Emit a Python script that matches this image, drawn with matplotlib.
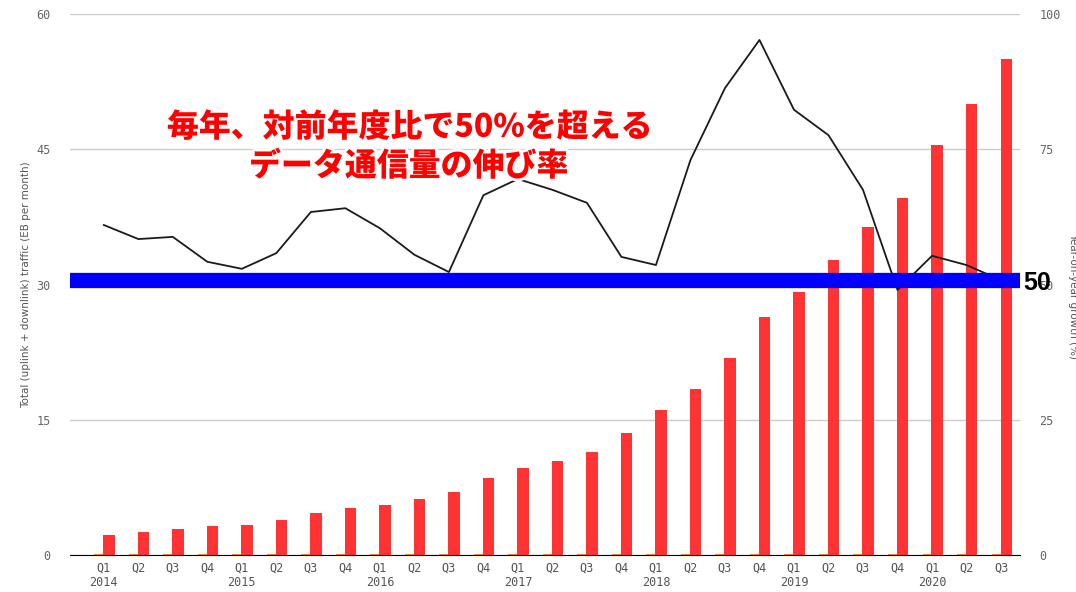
import matplotlib
matplotlib.use('Agg')
import matplotlib.pyplot as plt
import matplotlib.patheffects as pe
import numpy as np

# quarters Q1 2014 .. Q3 2020
quarters = ['Q1', 'Q2', 'Q3', 'Q4'] * 6 + ['Q1', 'Q2', 'Q3']
years = ['2014', '2015', '2016', '2017', '2018', '2019', '2020']

# total mobile data traffic (EB per month)
traffic = [2.2, 2.55, 2.9, 3.2, 3.3, 3.9, 4.65, 5.2, 5.5, 6.2, 7.0, 8.5,
           9.65, 10.4, 11.4, 13.5, 16.1, 18.4, 21.8, 26.4, 29.2, 32.7, 36.4,
           39.6, 45.5, 50.0, 55.0]
# second (tiny) series
other = [0.12] * 27
# year-on-year growth (%)
growth = [61, 58.4, 58.8, 54.2, 52.9, 55.8, 63.4, 64.1, 60.4, 55.5, 52.3,
          66.5, 69.5, 67.5, 65.1, 55.1, 53.6, 73, 86.3, 95.2, 82.3, 77.6,
          67.5, 49, 55.3, 53.6, 50.8]

plt.rcParams['figure.dpi'] = 100
fig = plt.figure(figsize=(10.76, 5.92))
ax = fig.add_axes([70 / 1076, 37 / 592, 950 / 1076, 541 / 592])
ax2 = ax.twinx()

x = np.arange(len(traffic))
ax.bar(x - 0.14, other, width=0.27, color='#ff8c00', zorder=2)
ax.bar(x + 0.15, traffic, width=0.33, color='#ff3333', zorder=2)

ax.set_xlim(-0.98, 26.55)
ax.set_ylim(0, 60)
ax.set_yticks([0, 15, 30, 45, 60])
ax.grid(axis='y', color='#cccccc', linewidth=1)
ax.set_axisbelow(True)
for s in ['top', 'right', 'left']:
    ax.spines[s].set_visible(False)
    ax2.spines[s].set_visible(False)
ax2.spines['bottom'].set_visible(False)
ax.spines['bottom'].set_color('black')

ax2.plot(x, growth, color='#1a1a1a', linewidth=1.3, zorder=3)
ax2.set_ylim(0, 100)
ax2.set_yticks([0, 25, 50, 75, 100])

# blue 50% reference line
ax2.axhline(50.8, color='#0000ff', linewidth=11, zorder=4)
ax2.text(26.65, 50.3, '50', fontsize=18, fontweight='bold', color='black',
         va='center', ha='left', family='Liberation Sans')

labels = []
for i, q in enumerate(quarters):
    if q == 'Q1':
        labels.append(q + '\n' + years[i // 4])
    else:
        labels.append(q)
ax.set_xticks(x)
ax.set_xticklabels(labels, family='DejaVu Sans Mono', fontsize=8.5, color='#555555',
                   linespacing=1.1)
ax.tick_params(axis='x', length=0, pad=5)
ax.tick_params(axis='y', length=0, pad=14, labelsize=8.5, labelcolor='#666666')
ax2.tick_params(axis='y', length=0, pad=14, labelsize=8.5, labelcolor='#666666')
for t in ax.get_yticklabels() + ax2.get_yticklabels():
    t.set_family('DejaVu Sans Mono')

ax.set_ylabel('Total (uplink + downlink) traffic (EB per month)', fontsize=7.5,
              color='#555555', labelpad=4)
fig.text(1068 / 1076, 0.5, 'Year-on-year growth (%)', rotation=270, fontsize=7.5,
         color='#555555', ha='left', va='center')

ttl = dict(color='#ff0000', fontsize=23, fontweight='heavy', ha='center', va='center',
           family=['Noto Sans CJK JP', 'DejaVu Sans'],
           path_effects=[pe.withStroke(linewidth=4, foreground='white')], zorder=5)
fig.text(410 / 1076, 1 - 127 / 592, '毎年、対前年度比で50%を超える', **ttl)
fig.text(409 / 1076, 1 - 166 / 592, 'データ通信量の伸び率', **ttl)

fig.savefig('out.png', dpi=100, facecolor='white')
